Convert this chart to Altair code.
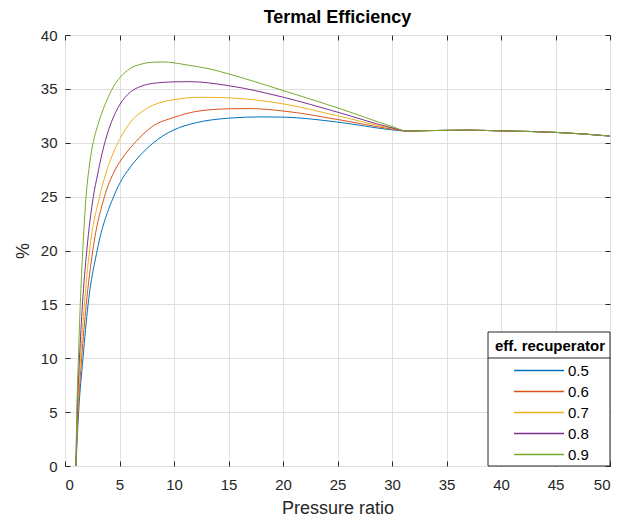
import altair as alt
import pandas as pd

series_labels = ["0.5", "0.6", "0.7", "0.8", "0.9"]
colors = ["#0072BD", "#D95319", "#EDB120", "#7E2F8E", "#77AC30"]

x_05 = [1, 1.25, 1.65, 2.12, 2.95, 4.46, 5, 6, 7, 8, 9, 10, 12, 15, 18, 20, 25, 30, 31.4]
y_05 = [0, 5, 10, 15, 20, 25, 26.2, 27.75, 28.95, 29.9, 30.65, 31.2, 31.85, 32.28, 32.4, 32.38, 31.92, 31.2, 31.08]

x_06 = [1, 1.2, 1.53, 1.95, 2.55, 3.62, 4.5, 5.5, 6.5, 8, 10, 12, 15, 17, 20, 25, 30, 31.4]
y_06 = [0, 5, 10, 15, 20, 25, 27.3, 28.9, 30.1, 31.5, 32.35, 32.9, 33.15, 33.17, 32.95, 32.16, 31.27, 31.08]

x_07 = [1, 1.16, 1.43, 1.78, 2.25, 3.18, 3.7, 4.29, 5, 6, 7, 8, 10, 12.5, 15, 20, 25, 30, 31.4]
y_07 = [0, 5, 10, 15, 20, 25, 27.0, 28.7, 30.3, 31.9, 32.85, 33.45, 34.0, 34.22, 34.17, 33.61, 32.5, 31.33, 31.08]

x_08 = [1, 1.12, 1.33, 1.6, 2.0, 2.6, 3.0, 3.4, 4.0, 4.5, 5, 6, 7, 8, 10, 11.5, 15, 20, 25, 30, 31.4]
y_08 = [0, 5, 10, 15, 20, 25, 27.1, 29.0, 31.2, 32.5, 33.5, 34.7, 35.25, 35.5, 35.65, 35.67, 35.3, 34.23, 32.84, 31.39, 31.08]

x_09 = [1, 1.08, 1.23, 1.4, 1.63, 1.93, 2.2, 2.5, 3.0, 3.5, 4, 4.5, 5, 6, 7, 8, 9, 10, 11, 13.3, 15, 20, 25, 30, 31.4]
y_09 = [0, 5, 10, 15, 20, 25, 27.6, 29.6, 31.6, 33.1, 34.3, 35.3, 36.0, 36.9, 37.3, 37.47, 37.5, 37.42, 37.25, 36.85, 36.39, 34.85, 33.24, 31.51, 31.08]

tail_x = [33, 35, 37, 40, 42.5, 45, 47.5, 50]
tail_y = [31.12, 31.15, 31.17, 31.1, 31.05, 30.96, 30.82, 30.62]

x_ticks = [0, 5, 10, 15, 20, 25, 30, 35, 40, 45, 50]
y_ticks = [0, 5, 10, 15, 20, 25, 30, 35, 40]

rows = []
for lab, xs_, ys_ in zip(series_labels, [x_05, x_06, x_07, x_08, x_09], [y_05, y_06, y_07, y_08, y_09]):
    for xv, yv in zip(xs_ + tail_x, ys_ + tail_y):
        rows.append({"ratio": xv, "eff": yv, "series": lab})
df = pd.DataFrame(rows)

INK = "#262626"
GRID = "#dfdfdf"
FONT = "Liberation Sans"

xs = alt.Scale(domain=[0, 50], nice=False, zero=False)
ys = alt.Scale(domain=[0, 40], nice=False, zero=False)

lines = alt.Chart(df).mark_line(strokeWidth=1, interpolate="monotone").encode(
    x=alt.X("ratio:Q", scale=xs, axis=alt.Axis(
        orient="bottom", values=x_ticks, title="Pressure ratio", offset=-5, tickSize=5,
        labelPadding=11, domain=False, grid=True, gridColor=GRID, gridWidth=1,
        tickColor=INK, labelColor=INK, titleColor=INK, labelFontSize=15,
        titleFontSize=18, titleFontWeight="normal", titleY=38, labelFont=FONT, titleFont=FONT)),
    y=alt.Y("eff:Q", scale=ys, axis=alt.Axis(
        orient="left", values=y_ticks, title="%", offset=-5, tickSize=5,
        labelPadding=8, domain=False, grid=True, gridColor=GRID, gridWidth=1,
        tickColor=INK, labelColor=INK, titleColor=INK, labelFontSize=15,
        titleFontSize=18, titleFontWeight="normal", titleX=-37.5, titleY=215.5,
        labelFont=FONT, titleFont=FONT)),
    color=alt.Color("series:N", scale=alt.Scale(domain=series_labels, range=colors),
                    legend=alt.Legend(
                        title="eff. recuperator", orient="none", legendX=423, legendY=297,
                        padding=7, titleFontSize=15, titleFontWeight="bold", titleColor="#000000",
                        titleFont=FONT, titlePadding=9, labelFontSize=15, labelFont=FONT,
                        labelColor="#000000", symbolType="stroke", symbolSize=2500,
                        symbolStrokeWidth=1.4, symbolOffset=18, labelOffset=3,
                        clipHeight=15, rowPadding=5)),
)

frame = alt.Chart(df).mark_point(opacity=0, size=1).encode(
    x=alt.X("ratio:Q", scale=xs, axis=alt.Axis(
        orient="top", values=x_ticks, title="", labels=False, offset=-5, tickSize=5,
        domain=False, grid=False, tickColor=INK)),
    y=alt.Y("eff:Q", scale=ys, axis=alt.Axis(
        orient="right", values=y_ticks, title="", labels=False, offset=-5, tickSize=5,
        domain=False, grid=False, tickColor=INK)),
)

box_df = pd.DataFrame({"k": [0]})
box = alt.Chart(box_df).mark_rect(fill="white", stroke=INK, strokeWidth=1).encode(
    x=alt.value(423), x2=alt.value(545), y=alt.value(297), y2=alt.value(431))
sep = alt.Chart(box_df).mark_rule(color=INK, strokeWidth=1).encode(
    x=alt.value(423), x2=alt.value(545), y=alt.value(323))

chart = alt.layer(lines, frame, box, sep).resolve_axis(
    x="independent", y="independent"
).properties(
    width=545, height=431,
    title=alt.Title("Termal Efficiency", fontSize=18, fontWeight="bold", offset=1,
                    color="#000000", font=FONT),
    autosize=alt.AutoSizeParams(type="none"),
    padding={"left": 65, "top": 35, "right": 11, "bottom": 54},
).configure_view(stroke=INK, strokeWidth=1).configure(font=FONT)

chart.save("out.html", embed_options={"renderer": "svg", "actions": False})
